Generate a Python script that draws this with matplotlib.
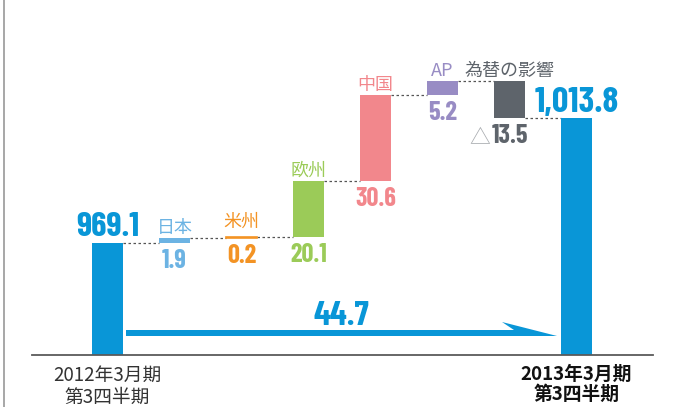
import numpy as np
import matplotlib
matplotlib.use('Agg')
import matplotlib.pyplot as plt
from matplotlib.patches import Polygon
from matplotlib.lines import Line2D

# chart values
categories = ['2012年3月期\n第3四半期', '日本', '米州', '欧州', '中国', 'AP', '為替の影響', '2013年3月期\n第3四半期']
start_value = 969.1
end_value = 1013.8
changes = [1.9, 0.2, 20.1, 30.6, 5.2, -13.5]
colors = ['#0996d7', '#6cb3e3', '#f39324', '#9bcb58', '#f2878c', '#988cc4', '#5e646b', '#0996d7']

NUM_FONT = ['Barlow Condensed', 'DejaVu Sans']
JP_FONT = ['Noto Sans CJK JP', 'DejaVu Sans']

W, H = 687, 407
PX_PER_UNIT = 2.8   # vertical scale
SLOT = 67           # px between bar centres
X0 = 107.5          # px centre of the first bar
BASE_ROW = 355      # pixel row of the base line
y_floor = 929.1     # value sitting on the base line (truncated axis)
PT = 0.72           # px -> pt at 100 dpi


def row(r):
    # pixel row (from top) -> data y
    return y_floor + (BASE_ROW - r) / PX_PER_UNIT


def col(c):
    # pixel column -> data x
    return (c - X0) / SLOT


fig = plt.figure(figsize=(W / 100, H / 100), dpi=100)
ax = fig.add_axes([0, 0, 1, 1])
ax.set_xlim(col(0), col(W))
ax.set_ylim(row(H), row(0))
ax.axis('off')

x = np.arange(len(categories))
steps = np.array(changes)
level_after = start_value + np.cumsum(steps)
level_before = level_after - steps
bottoms = np.concatenate([[y_floor], np.minimum(level_before, level_after), [y_floor]])
heights = np.concatenate([[start_value - y_floor], np.abs(steps), [end_value - y_floor]])
bw = 31 / SLOT
lws = [1.2 if h < 1 else 0 for h in heights]
ax.bar(x, heights, bottom=bottoms, width=bw, color=colors, edgecolor=colors, linewidth=lws, zorder=2)

# dotted connectors
levels = [start_value] + list(level_after)
for i in range(len(x) - 1):
    ax.plot([x[i] + bw / 2, x[i + 1] - bw / 2], [levels[i]] * 2, ls=(0, (2, 2)),
            color='#555555', lw=0.9, zorder=1)

# base line and left frame
ax.plot([col(32), col(653)], [y_floor] * 2, color='#5a5a5a', lw=1.3, zorder=3)
fig.add_artist(Line2D([3.5 / W] * 2, [0, 1], color='#a0a0a0', lw=1.3))

num_kw = dict(textcoords='offset points', ha='center', va='baseline', fontweight='bold',
              fontstretch='condensed', family=NUM_FONT)

# labels for the steps
for i, v in enumerate(changes):
    xi = x[i + 1]
    c = colors[i + 1]
    top = max(level_before[i], level_after[i])
    bot = min(level_before[i], level_after[i])
    lift = 10 if abs(v) < 1 else 5   # thin bar: keep the name clear of the edge line
    ax.annotate(categories[i + 1], (xi, top), xytext=(0, lift * PT), textcoords='offset points',
                ha='center', va='baseline', fontsize=13, color=c, family=JP_FONT)
    ax.annotate('%.1f' % abs(v), (xi, bot), xytext=(0, -25 * PT), fontsize=19, color=c, **num_kw)
    if v < 0:
        ax.annotate('△', (xi, bot), xytext=(-19 * PT, -25 * PT), textcoords='offset points',
                    ha='right', va='baseline', fontsize=15, color='#a8abaf', family=JP_FONT)

# start / end totals
ax.annotate('{:,.1f}'.format(start_value), (x[0], start_value), xytext=(0, 7 * PT),
            fontsize=25, color=colors[0], **num_kw)
ax.annotate('{:,.1f}'.format(end_value), (x[-1], end_value), xytext=(0, 6 * PT),
            fontsize=26, color=colors[-1], **num_kw)

# period labels under the base line
ax.text(x[0], row(365), categories[0], ha='center', va='top', fontsize=13.5,
        linespacing=1.05, color='#333333', family=JP_FONT)
ax.text(x[-1], row(365), categories[-1], ha='center', va='top', fontsize=13.5,
        linespacing=1.05, color='#111111', fontweight='bold', family=JP_FONT)

# harpoon arrow from the first to the last total
ax0 = x[0] + bw / 2 + 3 / SLOT
ax1 = x[-1] - bw / 2 - 4 / SLOT
arrow = Polygon([(ax0, row(330)), (ax1 - 43 / SLOT, row(330)), (ax1 - 55 / SLOT, row(322)),
                 (ax1, row(336)), (ax0, row(336))], closed=True, color=colors[0], lw=0)
ax.add_patch(arrow)
ax.annotate('%.1f' % (end_value - start_value), ((ax0 + ax1) / 2, row(330)), xytext=(0, 5 * PT),
            fontsize=25, color=colors[0], **num_kw)

fig.savefig('out.png', dpi=100)
